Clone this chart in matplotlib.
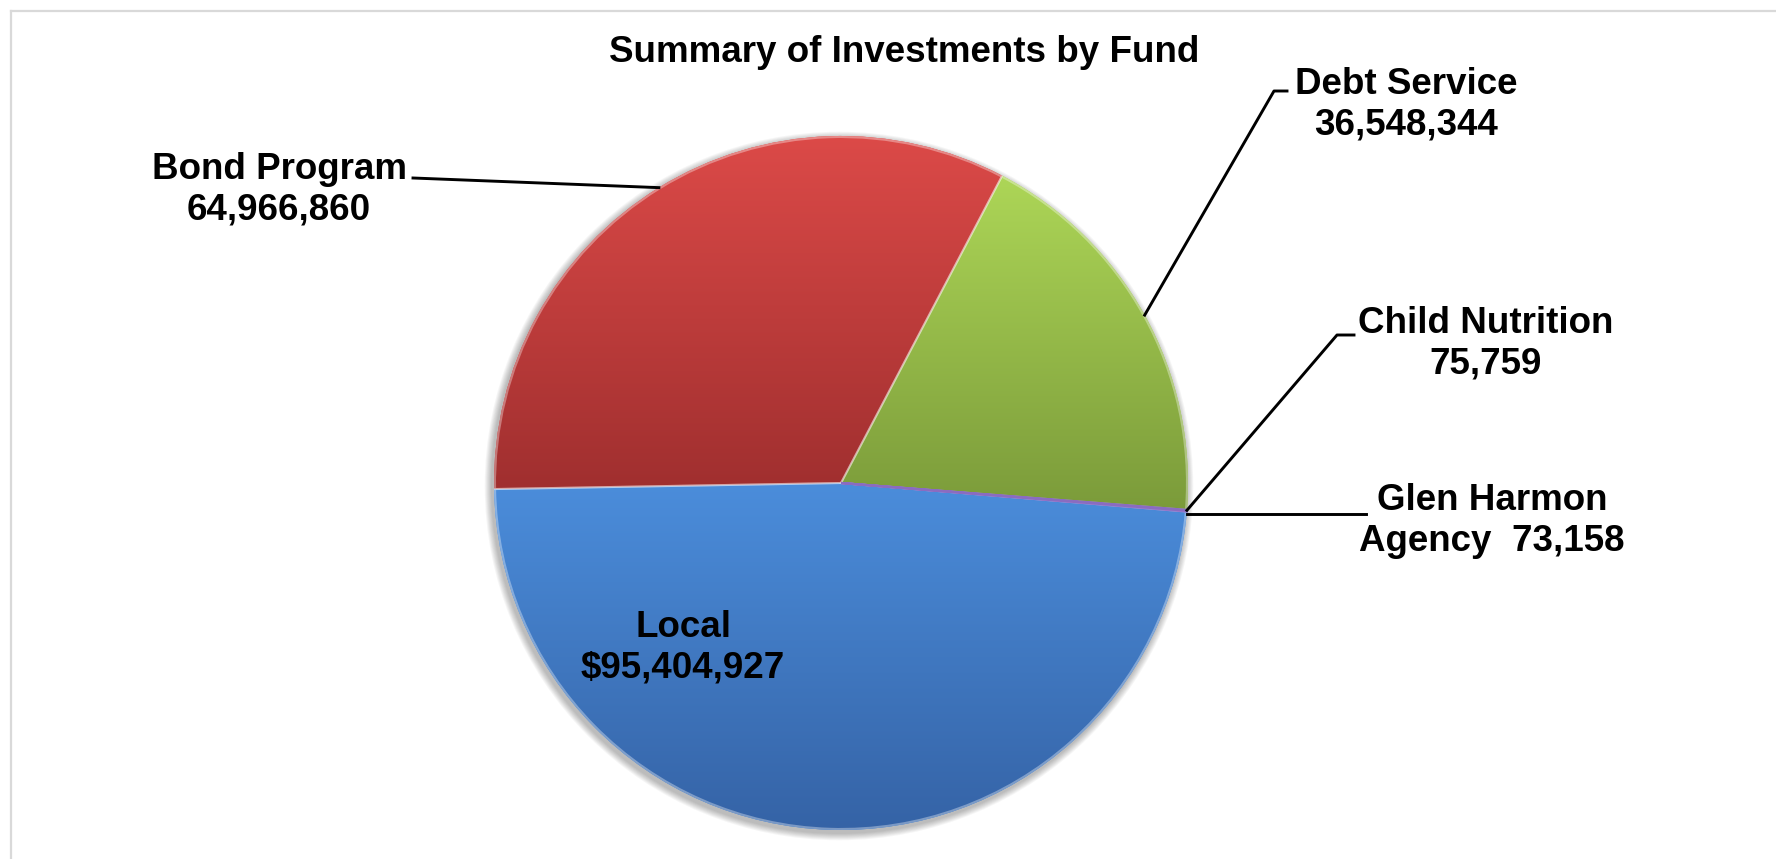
import numpy as np
import matplotlib
matplotlib.use('Agg')
import matplotlib.pyplot as plt
from matplotlib.colors import LinearSegmentedColormap
from matplotlib.lines import Line2D
from matplotlib.patches import Circle, Wedge

# ---- data ----
funds = ['Local', 'Glen Harmon Agency', 'Child Nutrition', 'Debt Service', 'Bond Program']
values = [95404927, 73158, 75759, 36548344, 64966860]
label_texts = ['Local\n\\$95,404,927', 'Glen Harmon\nAgency  73,158', 'Child Nutrition\n75,759',
               'Debt Service\n36,548,344', 'Bond Program\n64,966,860']
title = 'Summary of Investments by Fund'

top_colors = ['#4b8ddb', '#9a7ccc', '#8a6cc0', '#add657', '#dc4a48']
bottom_colors = ['#3563a6', '#7456a6', '#7456a6', '#7b9b3a', '#a02f2f']

FONT = ['Liberation Sans', 'Arial', 'DejaVu Sans']
FS = 26.5

W, H = 1776, 859
fig = plt.figure(figsize=(W / 100, H / 100), dpi=100)
ax = fig.add_axes([0, 0, 1, 1])

cx, cy, R = 841, H - 483, 347

# soft shadow
for i in range(8):
    ax.add_patch(Circle((cx - 2, cy - 3), R + 1 + i * 0.9, facecolor='black',
                        alpha=0.035, edgecolor='none', zorder=0))

wedges, _ = ax.pie(values, startangle=181, counterclock=True, center=(cx, cy), radius=R,
                   colors=top_colors,
                   wedgeprops=dict(linewidth=0, edgecolor='none'))
for w in wedges:
    w.set_zorder(1)

total = sum(values)
big = [v / total > 0.01 for v in values]

# vertical gradients per slice
for w, ct, cb, b in zip(wedges, top_colors, bottom_colors, big):
    if not b:
        continue
    ext = w.get_path().get_extents()
    cmap = LinearSegmentedColormap.from_list('g', [cb, ct])
    grad = np.linspace(0, 1, 256).reshape(-1, 1)
    im = ax.imshow(grad, extent=[ext.x0, ext.x1, ext.y0, ext.y1], origin='lower',
                   cmap=cmap, aspect='auto', interpolation='bicubic', zorder=2)
    im.set_clip_path(w)

# thin highlight edges on large slices
for w, b in zip(wedges, big):
    if b:
        ax.add_patch(Wedge((cx, cy), R - 1, w.theta1, w.theta2, facecolor='none',
                           edgecolor=(1, 1, 1, 0.35), linewidth=1.5, zorder=3))

# make the tiny slices visible as a thin purple band
for w, ct, b in zip(wedges, top_colors, big):
    if not b:
        ax.add_patch(Wedge((cx, cy), R, w.theta1, w.theta2, facecolor=ct,
                           edgecolor=ct, linewidth=1.6, zorder=3.5))

ax.set_xlim(0, W)
ax.set_ylim(0, H)
ax.set_aspect('equal')
ax.axis('off')


def edge_point(w):
    a = np.deg2rad((w.theta1 + w.theta2) / 2)
    return cx + R * np.cos(a), cy + R * np.sin(a)


lw = 2.1
# Bond Program leader
ex, ey = edge_point(wedges[4])
ax.add_line(Line2D([ex, 413], [ey, H - 178], color='black', lw=lw, zorder=4))
# Debt Service leader
ex, ey = edge_point(wedges[3])
ax.add_line(Line2D([ex, 1274, 1287], [ey, H - 91, H - 91], color='black', lw=lw, zorder=4))
# Child Nutrition leader
ex, ey = edge_point(wedges[2])
ax.add_line(Line2D([ex, 1337, 1354], [ey, H - 335, H - 335], color='black', lw=lw, zorder=4))
# Glen Harmon leader
ex, ey = edge_point(wedges[1])
ax.add_line(Line2D([ex, 1366], [ey - 3, ey - 3], color='black', lw=lw, zorder=4))

label_pos = [(683, 648), (1492, 521), (1486, 344), (1406, 105), (279, 190)]
for txt, (x, y) in zip(label_texts, label_pos):
    ax.text(x, H - y, txt, ha='center', va='center', fontsize=FS, fontweight='bold',
            family=FONT, linespacing=1.2, zorder=5)

ax.text(904, H - 53, title, ha='center', va='center', fontsize=FS, fontweight='bold',
        family=FONT, zorder=5)

# chart area border (top and left visible)
fig.add_artist(Line2D([11, W], [H - 11, H - 11], transform=None, color='#d9d9d9', lw=1.6))
fig.add_artist(Line2D([11, 11], [0, H - 11], transform=None, color='#d9d9d9', lw=1.6))

fig.savefig('out.png', dpi=100)
